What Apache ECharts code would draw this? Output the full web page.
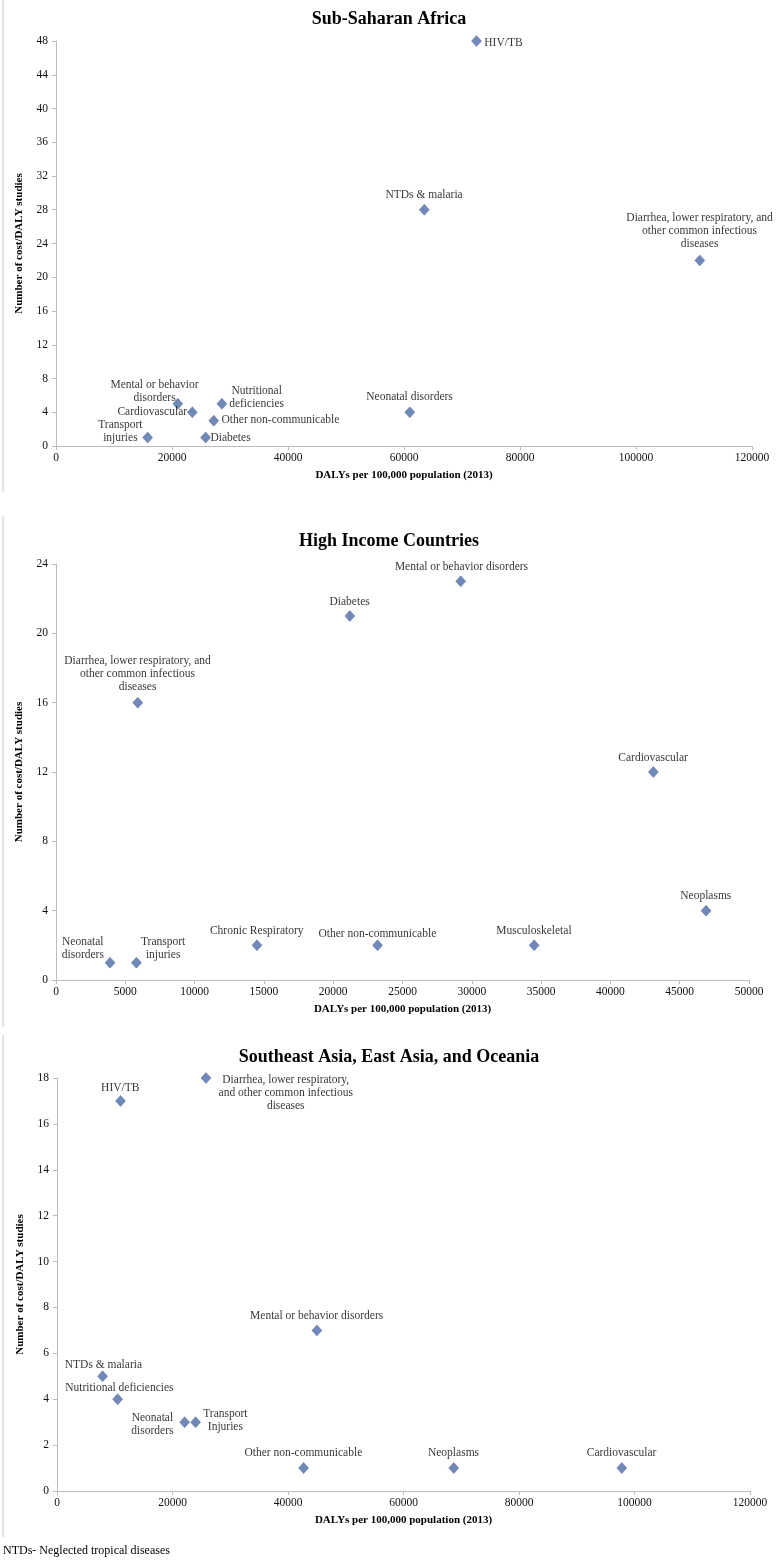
<!DOCTYPE html>
<html>
<head>
<meta charset="utf-8">
<script src="https://cdn.jsdelivr.net/npm/echarts@6/dist/echarts.min.js"></script>
<style>
html,body{margin:0;padding:0;background:#fff;}
#c{width:778px;height:1565px;}
</style>
</head>
<body>
<div id="c"></div>
<script>
// ---------- DATA ----------
const ssaNames = ['HIV/TB','NTDs & malaria','Diarrhea, lower respiratory, and other common infectious diseases','Neonatal disorders','Mental or behavior disorders','Cardiovascular','Nutritional deficiencies','Other non-communicable','Transport injuries','Diabetes'];
const ssaDalys = [72500, 63500, 111000, 61000, 21000, 23500, 28600, 27200, 15800, 25800];
const ssaStudies = [48, 28, 22, 4, 5, 4, 5, 3, 1, 1];

const hicNames = ['Mental or behavior disorders','Diabetes','Diarrhea, lower respiratory, and other common infectious diseases','Cardiovascular','Neoplasms','Chronic Respiratory','Other non-communicable','Musculoskeletal','Neonatal disorders','Transport injuries'];
const hicDalys = [29200, 21200, 5900, 43100, 46900, 14500, 23200, 34500, 3900, 5800];
const hicStudies = [23, 21, 16, 12, 4, 2, 2, 2, 1, 1];

const seaNames = ['HIV/TB','Diarrhea, lower respiratory, and other common infectious diseases','Mental or behavior disorders','NTDs & malaria','Nutritional deficiencies','Neonatal disorders','Transport Injuries','Other non-communicable','Neoplasms','Cardiovascular'];
const seaDalys = [11000, 25800, 45000, 7900, 10500, 22100, 24000, 42700, 68700, 97800];
const seaStudies = [17, 18, 7, 5, 4, 3, 3, 1, 1, 1];

const panelTitles = ['Sub-Saharan Africa','High Income Countries','Southeast Asia, East Asia, and Oceania'];
const xName = 'DALYs per 100,000 population (2013)';
const yName = 'Number of cost/DALY studies';
const footnote = 'NTDs- Neglected tropical diseases';

// ---------- LABEL PLACEMENT (presentation only) ----------
// [dx, dy, align, displayed text with line breaks]
const ssaLabels = {
  'HIV/TB': [8, 2, 'left'],
  'NTDs & malaria': [0, -15, 'center'],
  'Diarrhea, lower respiratory, and other common infectious diseases': [0, -29, 'center', 'Diarrhea, lower respiratory, and\nother common infectious\ndiseases'],
  'Neonatal disorders': [0, -15, 'center'],
  'Mental or behavior disorders': [-23, -12, 'center', 'Mental or behavior\ndisorders'],
  'Cardiovascular': [-5, 0, 'right'],
  'Nutritional deficiencies': [35, -6, 'center', 'Nutritional\ndeficiencies'],
  'Other non-communicable': [8, 0, 'left'],
  'Transport injuries': [-27, -6, 'center', 'Transport\ninjuries'],
  'Diabetes': [5, 1, 'left']
};
const hicLabels = {
  'Mental or behavior disorders': [1, -14, 'center'],
  'Diabetes': [0, -14, 'center'],
  'Diarrhea, lower respiratory, and other common infectious diseases': [0, -28, 'center', 'Diarrhea, lower respiratory, and\nother common infectious\ndiseases'],
  'Cardiovascular': [0, -14, 'center'],
  'Neoplasms': [0, -14, 'center'],
  'Chronic Respiratory': [0, -14, 'center'],
  'Other non-communicable': [0, -11, 'center'],
  'Musculoskeletal': [0, -14, 'center'],
  'Neonatal disorders': [-27, -14, 'center', 'Neonatal\ndisorders'],
  'Transport injuries': [27, -14, 'center', 'Transport\ninjuries']
};
const seaLabels = {
  'HIV/TB': [0, -13, 'center'],
  'Diarrhea, lower respiratory, and other common infectious diseases': [80, 15, 'center', 'Diarrhea, lower respiratory,\nand other common infectious\ndiseases'],
  'Mental or behavior disorders': [0, -14, 'center'],
  'NTDs & malaria': [1, -11, 'center'],
  'Nutritional deficiencies': [2, -11, 'center'],
  'Neonatal disorders': [-32, 3, 'center', 'Neonatal\ndisorders'],
  'Transport Injuries': [30, -1, 'center', 'Transport\nInjuries'],
  'Other non-communicable': [0, -15, 'center'],
  'Neoplasms': [0, -15, 'center'],
  'Cardiovascular': [0, -15, 'center']
};

const FONT = '"Liberation Serif", "Times New Roman", serif';
const MARK = '#4d6ca8';
const SYM = [10, 11];

function buildData(names, xs, ys, lab) {
  return names.map((n, i) => {
    const p = lab[n];
    return {
      name: n,
      value: [xs[i], ys[i]],
      label: {
        show: true,
        position: [SYM[0] / 2 + p[0], SYM[1] / 2 + p[1]],
        align: p[2],
        verticalAlign: 'middle',
        formatter: p[3] || n
      }
    };
  });
}

const grids = [
  {left: 56, width: 696, top: 41, height: 405},
  {left: 56, width: 693, top: 564, height: 416},
  {left: 57, width: 693, top: 1078, height: 413}
];
const xRanges = [[0, 120000, 20000], [0, 50000, 5000], [0, 120000, 20000]];
const yRanges = [[0, 48, 4], [0, 24, 4], [0, 18, 2]];
const titleTops = [5, 527, 1043];

const axisLine = {show: true, lineStyle: {color: '#bdbdbd', width: 1}};
const axisTick = {show: true, length: 4, lineStyle: {color: '#bdbdbd'}};
const axisLabel = {color: '#111', fontFamily: FONT, fontSize: 11.5, formatter: v => String(v)};

const option = {
  animation: false,
  backgroundColor: '#fff',
  title: panelTitles.map((t, i) => ({
    text: t, left: 'center', top: titleTops[i],
    textStyle: {fontFamily: FONT, fontSize: 18, fontWeight: 'bold', color: '#000'}
  })),
  grid: grids,
  xAxis: xRanges.map((r, i) => ({
    type: 'value', gridIndex: i, min: r[0], max: r[1], interval: r[2],
    name: xName, nameLocation: 'middle', nameGap: 24,
    nameTextStyle: {fontFamily: FONT, fontSize: 11, fontWeight: 'bold', color: '#000'},
    axisLine, axisTick, splitLine: {show: false},
    axisLabel: Object.assign({margin: 6}, axisLabel)
  })),
  yAxis: yRanges.map((r, i) => ({
    type: 'value', gridIndex: i, min: r[0], max: r[1], interval: r[2],
    name: yName, nameLocation: 'middle', nameGap: 31, nameRotate: 90,
    nameTextStyle: {fontFamily: FONT, fontSize: 11, fontWeight: 'bold', color: '#000'},
    axisLine, axisTick, splitLine: {show: false},
    axisLabel: Object.assign({margin: 8}, axisLabel)
  })),
  series: [
    [ssaNames, ssaDalys, ssaStudies, ssaLabels],
    [hicNames, hicDalys, hicStudies, hicLabels],
    [seaNames, seaDalys, seaStudies, seaLabels]
  ].map((s, i) => ({
    type: 'scatter', xAxisIndex: i, yAxisIndex: i,
    symbol: 'diamond', symbolSize: SYM,
    itemStyle: {color: MARK, borderColor: '#3f5d98', borderWidth: 0.5},
    label: {fontFamily: FONT, fontSize: 11.5, color: '#000', lineHeight: 13},
    data: buildData(s[0], s[1], s[2], s[3])
  })),
  graphic: [
    {type: 'line', shape: {x1: 3, y1: 0, x2: 3, y2: 492}, style: {stroke: '#c8c8c8', lineWidth: 1}},
    {type: 'line', shape: {x1: 3, y1: 516, x2: 3, y2: 1027}, style: {stroke: '#c8c8c8', lineWidth: 1}},
    {type: 'line', shape: {x1: 3, y1: 1035, x2: 3, y2: 1537}, style: {stroke: '#c8c8c8', lineWidth: 1}},
    {type: 'text', left: 3, top: 1545, style: {text: footnote, font: '12px ' + FONT, fill: '#000'}}
  ]
};

const chart = echarts.init(document.getElementById('c'));
chart.setOption(option);
</script>
</body>
</html>
